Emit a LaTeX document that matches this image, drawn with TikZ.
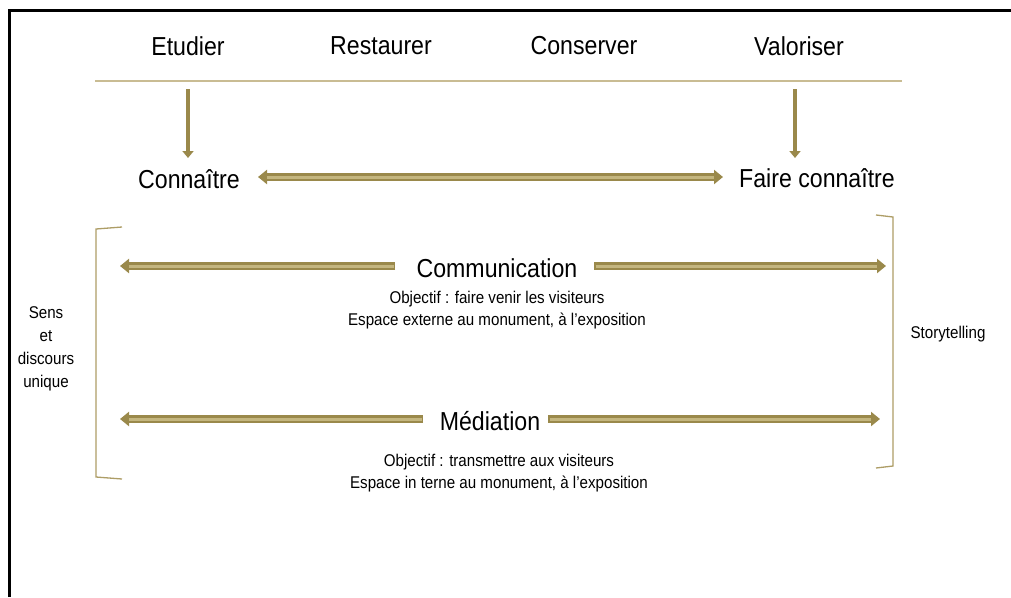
\documentclass[tikz,border=0pt]{standalone}
\usepackage{fontspec}
\setmainfont[FakeStretch=0.89]{Liberation Sans}
\usetikzlibrary{arrows.meta}

\definecolor{arrowdark}{HTML}{9A894B}
\definecolor{arrowlight}{HTML}{C4B67F}
\definecolor{ruleline}{HTML}{C9BC93}
\definecolor{bracketline}{HTML}{AD9D66}

\tikzset{
  big/.style={font=\fontsize{26}{31}\selectfont, inner sep=0pt, anchor=center},
  small/.style={font=\fontsize{17}{22}\selectfont, inner sep=0pt, align=center, anchor=center},
  bandarrow/.style={line width=7.5pt, draw=arrowdark,
    -{Triangle[length=9pt,width=14pt]},
    postaction={draw=arrowlight, line width=3pt, -, shorten >=9pt, shorten <=1.5pt}},
  bandarrows/.style={line width=7.5pt, draw=arrowdark,
    {Triangle[length=9pt,width=14pt]}-{Triangle[length=9pt,width=14pt]},
    postaction={draw=arrowlight, line width=3pt, -, shorten >=9pt, shorten <=9pt}},
  downarrow/.style={line width=4.5pt, draw=arrowdark, -{Triangle[length=7pt,width=11pt]}},
  bracket/.style={draw=bracketline, line width=1.3pt},
}

\begin{document}
\begin{tikzpicture}[x=1pt, y=-1pt]
  \useasboundingbox (0,0) rectangle (1011,597);

  % frame (top and left edges)
  \draw[line width=3pt, black] (9,597) -- (9,10) -- (1011,10);

  % the four actions
  \node[big] (etudier)   at (188,46) {Etudier};
  \node[big] (restaurer) at (381,46) {Restaurer};
  \node[big] (conserver) at (584,46) {Conserver};
  \node[big] (valoriser) at (799,46) {Valoriser};

  % separator
  \coordinate (ruleL) at (95,81);
  \coordinate (ruleR) at (902,81);
  \draw[draw=ruleline, line width=2pt] (ruleL) -- (ruleR);

  % knowing / making known
  \node[big] (connaitre) at (189,179) {Connaître};
  \node[big] (faire)     at (817,178) {Faire connaître};

  \coordinate (etTop) at (188,89);
  \coordinate (vaTop) at (795,89);
  \draw[downarrow] (etTop) -- (188,158);
  \draw[downarrow] (vaTop) -- (795,158);

  \coordinate (linkL) at (258,177);
  \coordinate (linkR) at (723,177);
  \draw[bandarrows] (linkL) -- (linkR);

  % brackets
  \draw[bracket] (122,227) -- (96,229) -- (96,477) -- (122,479);
  \draw[bracket] (876,215) -- (893,217) -- (893,466) -- (876,468);

  % side labels
  \node[small, font=\fontsize{17}{23}\selectfont] (sens) at (46,349) {Sens\\et\\discours\\unique};
  \node[small] (story) at (948,334) {Storytelling};

  % communication
  \node[big] (comm) at (497,268) {Communication};
  \coordinate (commLtail) at (395,266);
  \coordinate (commLtip)  at (120,266);
  \coordinate (commRtail) at (594,266);
  \coordinate (commRtip)  at (886,266);
  \draw[bandarrow] (commLtail) -- (commLtip);
  \draw[bandarrow] (commRtail) -- (commRtip);
  \node[small] (commtxt) at (497,310) {Objectif : faire venir les visiteurs\\Espace externe au monument, à l’exposition};

  % mediation
  \node[big] (med) at (490,421) {Médiation};
  \coordinate (medLtail) at (423,419);
  \coordinate (medLtip)  at (120,419);
  \coordinate (medRtail) at (548,419);
  \coordinate (medRtip)  at (880,419);
  \draw[bandarrow] (medLtail) -- (medLtip);
  \draw[bandarrow] (medRtail) -- (medRtip);
  \node[small] (medtxt) at (499,473) {Objectif : transmettre aux visiteurs\\Espace in terne au monument, à l’exposition};
\end{tikzpicture}
\end{document}
